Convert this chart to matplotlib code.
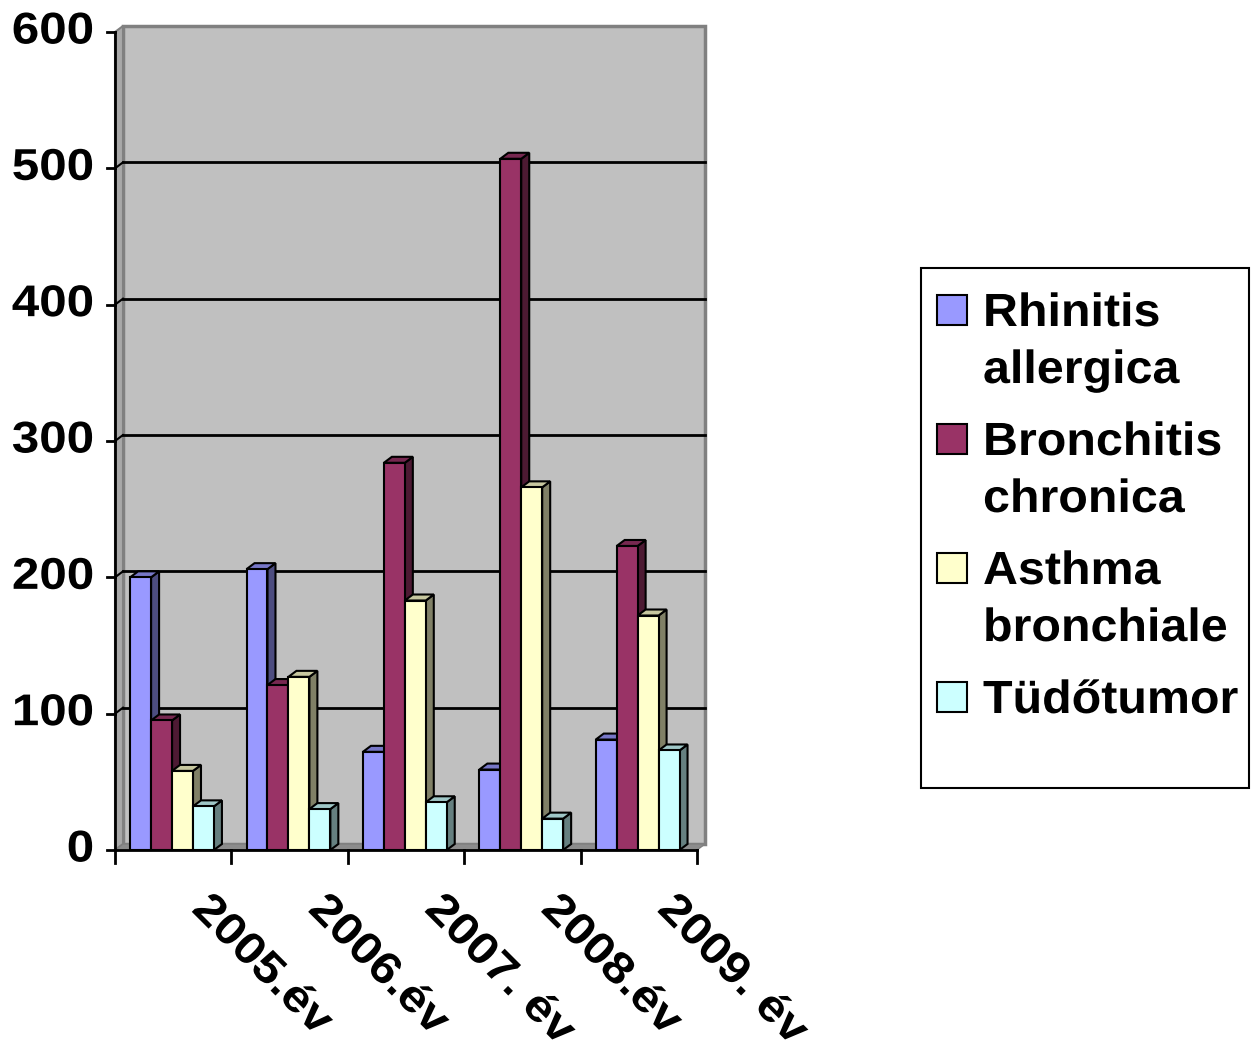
import matplotlib.pyplot as plt
from matplotlib.patches import Polygon, Rectangle
from matplotlib.patheffects import AbstractPathEffect
from matplotlib.transforms import Affine2D

# Adatok
EVEK = ['2005.év', '2006.év', '2007. év', '2008.év', '2009. év']
BETEGSEGEK = ['Rhinitis\nallergica', 'Bronchitis\nchronica', 'Asthma\nbronchiale', 'Tüdőtumor']
RHINITIS = [200, 206, 72, 59, 81]
BRONCHITIS = [95, 121, 284, 507, 223]
ASTHMA = [58, 127, 183, 266, 172]
TUDOTUMOR = [32, 30, 35, 23, 73]
SZINEK = ['#9999FF', '#993366', '#FFFFCC', '#CCFFFF']
Y_TICKS = [0, 100, 200, 300, 400, 500, 600]

W, H = 1252, 1048
FONT = 'Liberation Sans'
FS_TENGELY = 32
FS_JELMAG = 33.5


class Szeles(AbstractPathEffect):
    """Szoveg vizszintes nyujtasa a sor alapvonala menten."""

    def __init__(self, sx, igazitas='left'):
        super().__init__()
        self.sx = sx
        self.igazitas = igazitas

    def draw_path(self, renderer, gc, tpath, affine, rgbFace=None):
        ext = tpath.get_extents()
        x0 = ext.x1 if self.igazitas == 'right' else 0
        t = Affine2D().translate(-x0, 0).scale(self.sx, 1).translate(x0, 0)
        renderer.draw_path(gc, tpath, t + affine, rgbFace)


fig = plt.figure(figsize=(W / 100, H / 100), dpi=100)
# tengely helye pixelben: x 115..697, y 850..32
ax = fig.add_axes([115 / W, (H - 850) / H, 582 / W, 818 / H])
ax.set_xlim(0, 5)
ax.set_ylim(0, 600)
ax.axis('off')

px_x = 5 / 582      # egy pixel x adategysegben
px_y = 600 / 818    # egy pixel y adategysegben
DX = 8 * px_x       # 3D melyseg
DY = 6 * px_y


def sotet(c, f):
    r, g, b = [int(c[i:i + 2], 16) / 255 for i in (1, 3, 5)]
    return (r * f, g * f, b * f)


def poly(pts, fc, ec='black', lw=1.5, z=1):
    ax.add_patch(Polygon(pts, closed=True, facecolor=fc, edgecolor=ec,
                         linewidth=lw, zorder=z, clip_on=False))


# hatso fal, oldalfal, padlo
poly([(DX, DY), (5 + DX, DY), (5 + DX, 600 + DY), (DX, 600 + DY)], '#C0C0C0', '#808080', 2.5, 0)
poly([(0, 0), (DX, DY), (DX, 600 + DY), (0, 600)], '#A8A8A8', '#808080', 1.5, 0.5)
poly([(0, 0), (5, 0), (5 + DX, DY), (DX, DY)], '#8C8C8C', '#808080', 1, 0.5)

# racsvonalak
for v in Y_TICKS[1:-1]:
    ax.plot([DX, 5 + DX], [v + DY, v + DY], color='black', lw=2, zorder=0.6, clip_on=False)
    ax.plot([0, DX], [v, v + DY], color='black', lw=1.5, zorder=0.6, clip_on=False)

# oszlopok
sorozatok = [RHINITIS, BRONCHITIS, ASTHMA, TUDOTUMOR]
bw = 0.18
for i in range(len(EVEK)):
    for j, (adat, c) in enumerate(zip(sorozatok, SZINEK)):
        h = adat[i]
        x = i + 0.13 + j * bw
        z = 2 + j
        poly([(x + bw, 0), (x + bw + DX, DY), (x + bw + DX, h + DY), (x + bw, h)], sotet(c, 0.5), z=z)
        poly([(x, h), (x + DX, h + DY), (x + bw + DX, h + DY), (x + bw, h)], sotet(c, 0.78), z=z)
        ax.add_patch(Rectangle((x, 0), bw, h, facecolor=c, edgecolor='black',
                               linewidth=1.5, zorder=z + 0.1, clip_on=False))

# tengelyek
ax.plot([0, 0], [0, 600], color='black', lw=2, zorder=10, clip_on=False)
ax.plot([0, 5], [0, 0], color='black', lw=2, zorder=10, clip_on=False)
for v in Y_TICKS:
    ax.plot([-8 * px_x, 0], [v, v], color='black', lw=2, zorder=10, clip_on=False)
    ax.text(-21 * px_x, v, str(v), ha='right', va='center', fontsize=FS_TENGELY,
            fontweight='bold', family=FONT, path_effects=[Szeles(1.11, 'right')])
for i in range(len(EVEK) + 1):
    ax.plot([i, i], [0, -13 * px_y], color='black', lw=2, zorder=10, clip_on=False)
for i, ev in enumerate(EVEK):
    ax.text(i + 0.5 + 40 * px_x, -38 * px_y, ev, rotation=-45, rotation_mode='anchor',
            ha='left', va='top', fontsize=FS_TENGELY, fontweight='bold', family=FONT,
            path_effects=[Szeles(1.11)])

# jelmagyarazat
fig.patches.append(Rectangle((921 / W, 1 - 788 / H), 328 / W, 520 / H, transform=fig.transFigure,
                             facecolor='white', edgecolor='black', linewidth=1.5))
for k, (nev, c) in enumerate(zip(BETEGSEGEK, SZINEK)):
    alap = 326 + k * 129
    fig.patches.append(Rectangle((937 / W, 1 - (alap - 1) / H), 30 / W, 30 / H,
                                 transform=fig.transFigure, facecolor=c,
                                 edgecolor='black', linewidth=1.5))
    for n, sor in enumerate(nev.split('\n')):
        fig.text(983 / W, 1 - (alap + n * 57) / H, sor, ha='left', va='baseline',
                 fontsize=FS_JELMAG, fontweight='bold', family=FONT,
                 path_effects=[Szeles(1.04)])

fig.savefig('out.png', dpi=100)
